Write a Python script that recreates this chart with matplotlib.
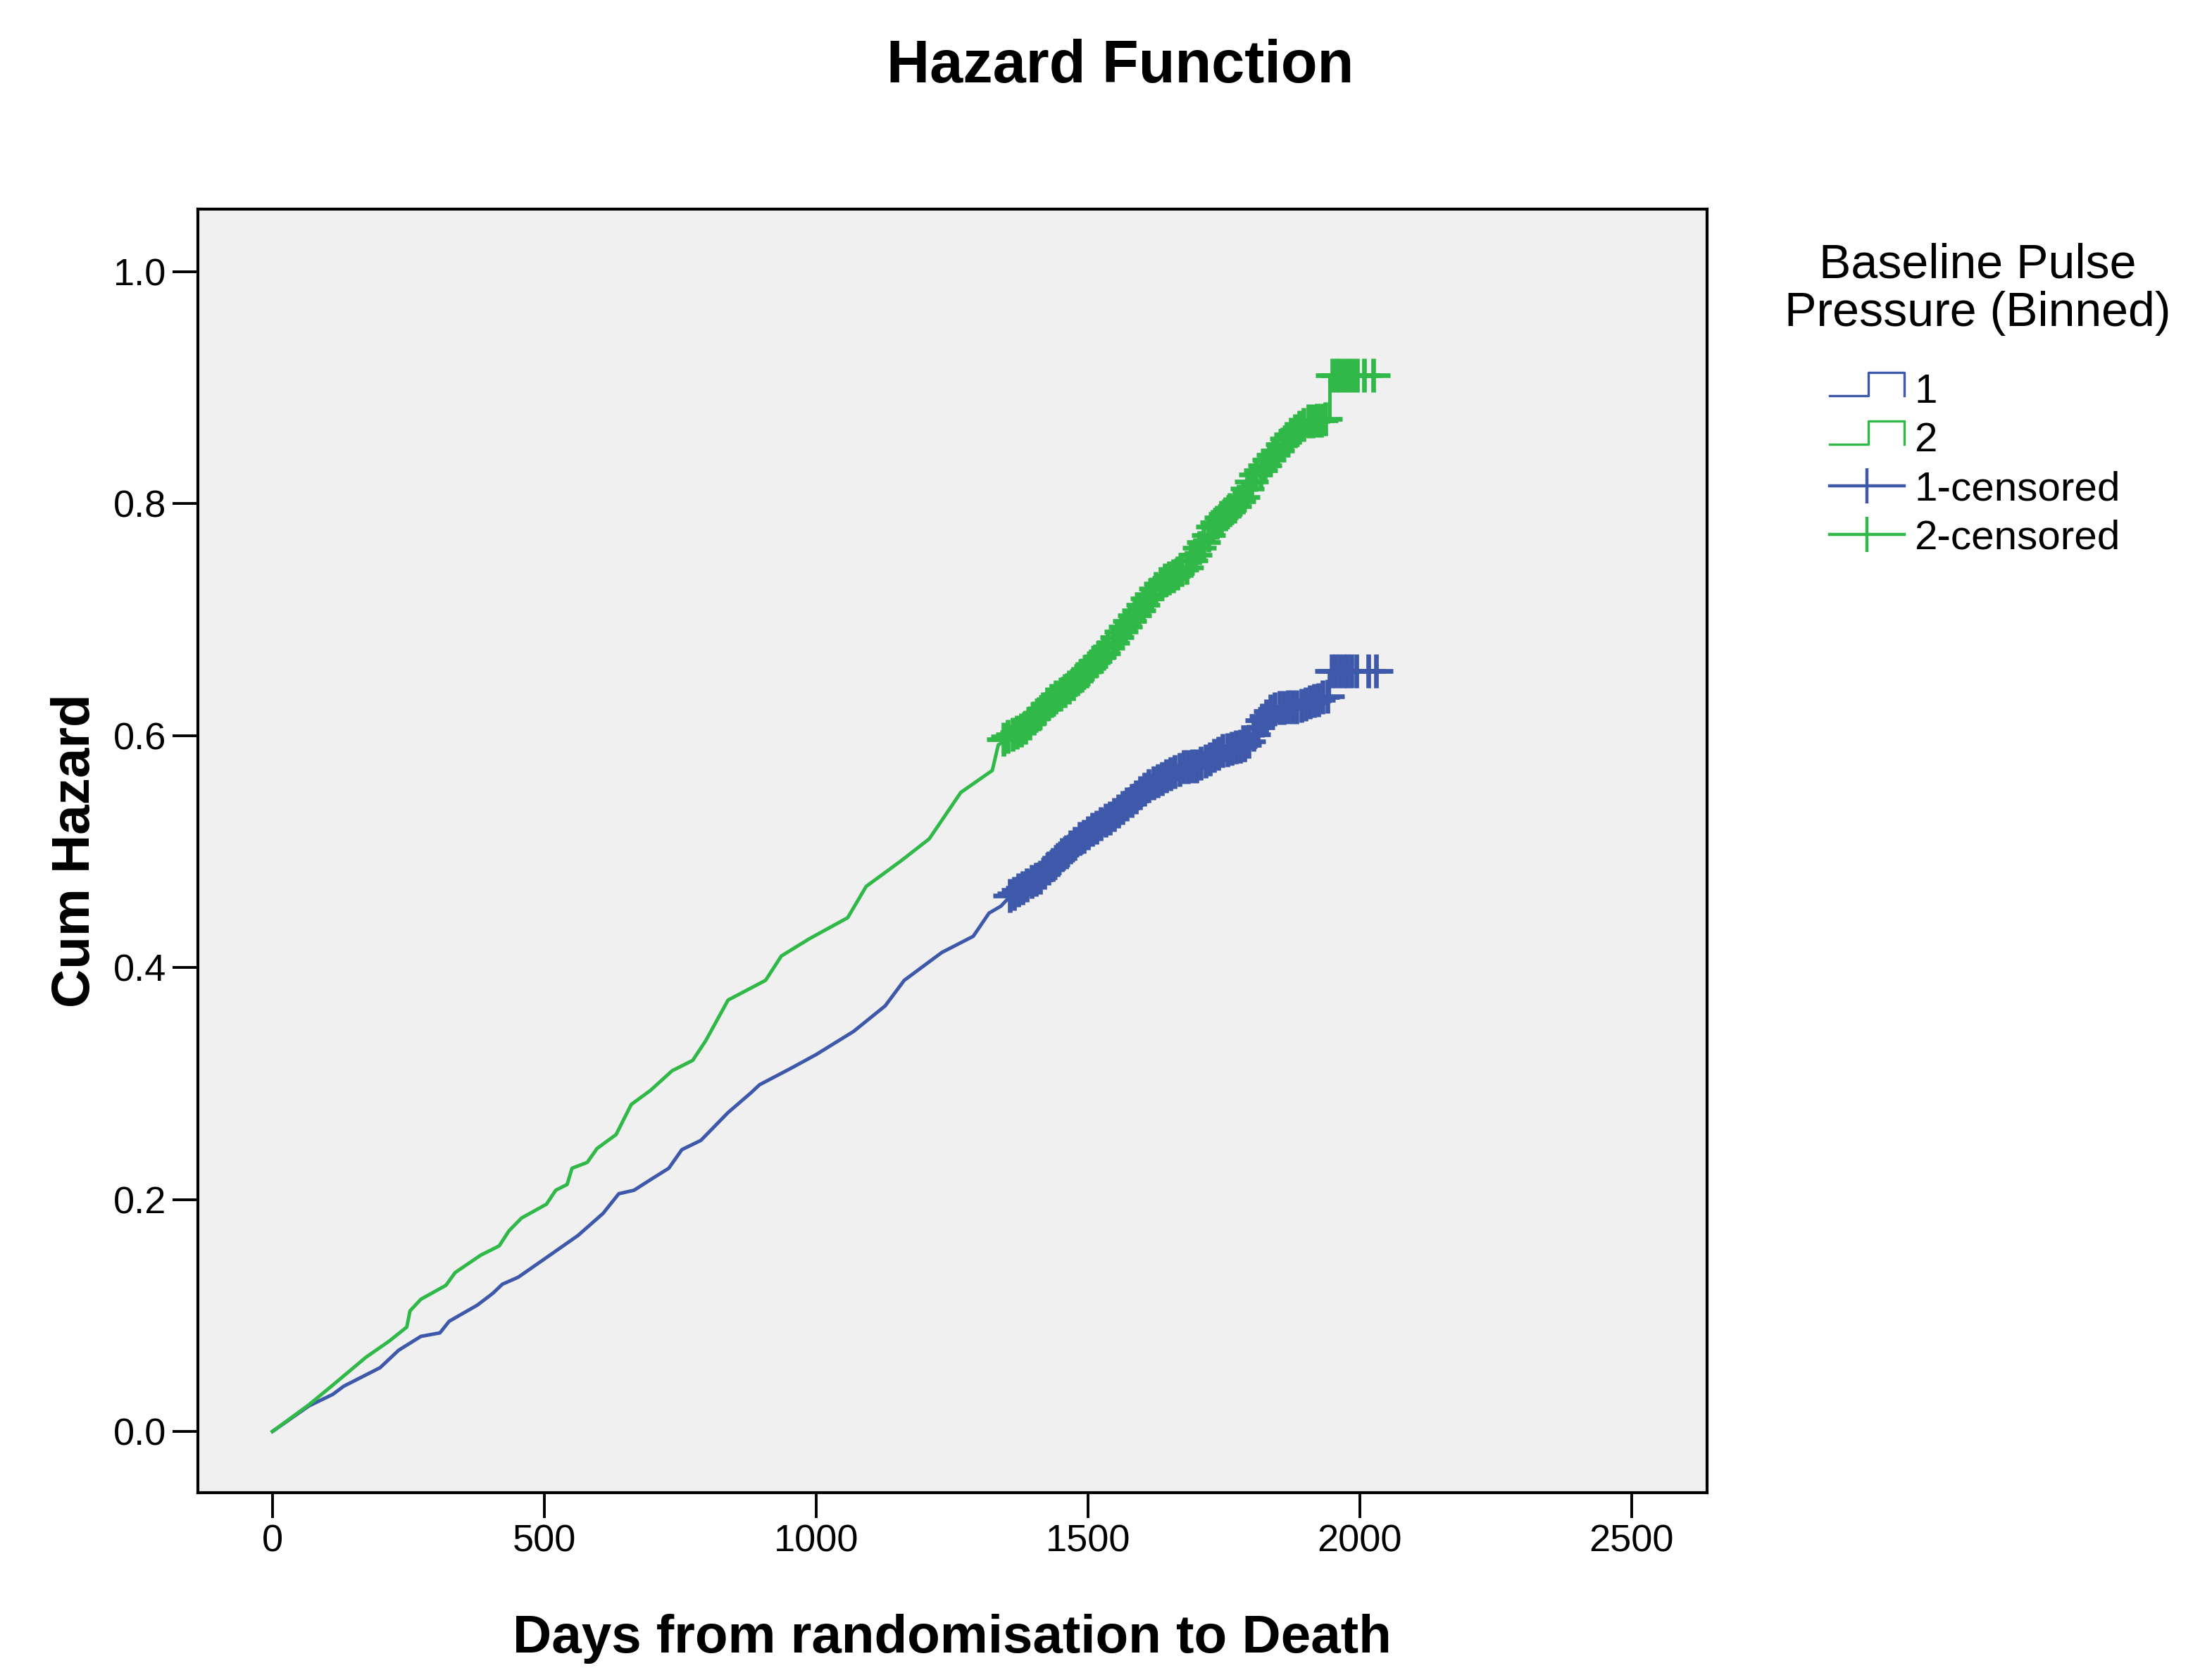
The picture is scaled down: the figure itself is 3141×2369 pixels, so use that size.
import matplotlib.pyplot as plt
from matplotlib.lines import Line2D
from matplotlib.legend_handler import HandlerBase

plt.rcParams["font.family"] = ["Liberation Sans", "DejaVu Sans"]

# ------------------------------------------------------------
# Cumulative hazard
# ------------------------------------------------------------

# group 1 (blue)
g1_days = [0, 67, 111, 131, 152, 198, 232, 273, 308, 325, 377, 405, 423, 452,
           498, 562, 608, 637, 665, 695, 729, 753, 788, 838, 880, 896, 953,
           1000, 1069, 1127, 1162, 1231, 1289, 1318, 1340, 1352, 1410, 1482,
           1554, 1616, 1674, 1702, 1745, 1793, 1817, 1841, 1889, 1927, 1944,
           1944, 2030]
g1_cumhaz = [0.0, 0.022, 0.032, 0.039, 0.044, 0.055, 0.070, 0.082, 0.085,
             0.095, 0.109, 0.119, 0.127, 0.133, 0.148, 0.169, 0.188, 0.205,
             0.208, 0.217, 0.227, 0.243, 0.251, 0.275, 0.292, 0.299, 0.313,
             0.325, 0.345, 0.367, 0.389, 0.413, 0.427, 0.447, 0.453, 0.459,
             0.4775, 0.510, 0.534, 0.559, 0.573, 0.574, 0.587, 0.593, 0.611,
             0.623, 0.625, 0.632, 0.635, 0.656, 0.656]

# group 2 (green)
g2_days = [0, 67, 111, 172, 215, 247, 253, 273, 319, 336, 383, 417, 435, 458,
           504, 521, 542, 551, 579, 597, 632, 660, 695, 735, 773, 797, 838,
           907, 936, 988, 1058, 1092, 1156, 1208, 1266, 1324, 1335, 1385,
           1435, 1484, 1534, 1584, 1634, 1683, 1707, 1732, 1782, 1806, 1832,
           1871, 1905, 1945, 1945, 2025]
g2_cumhaz = [0.0, 0.023, 0.040, 0.064, 0.078, 0.090, 0.104, 0.114, 0.126,
             0.137, 0.152, 0.160, 0.173, 0.184, 0.196, 0.208, 0.213, 0.227,
             0.232, 0.244, 0.256, 0.282, 0.294, 0.311, 0.320, 0.337, 0.372,
             0.389, 0.410, 0.425, 0.443, 0.470, 0.492, 0.511, 0.551, 0.570,
             0.592, 0.607, 0.631, 0.650, 0.674, 0.703, 0.732, 0.746, 0.763,
             0.782, 0.804, 0.823, 0.837, 0.859, 0.871, 0.873, 0.911, 0.911]

# censored cases: time and cum hazard where the mark sits
g1_cens_days = [1356, 1364, 1372, 1380, 1388, 1396, 1404, 1412, 1420, 1428,
                1436, 1444, 1452, 1460, 1468, 1476, 1484, 1492, 1500, 1508,
                1516, 1524, 1532, 1540, 1548, 1556, 1564, 1572, 1580, 1588,
                1596, 1604, 1612, 1620, 1628, 1636, 1644, 1652, 1660, 1668,
                1676, 1684, 1692, 1700, 1708, 1716, 1724, 1732, 1740, 1748,
                1756, 1764, 1772, 1780, 1788, 1796, 1804, 1812, 1820, 1828,
                1836, 1844, 1852, 1860, 1868, 1876, 1884, 1892, 1900, 1908,
                1916, 1924, 1932, 1940, 1948, 1955, 1962, 1970, 1977, 1985,
                1993, 2016, 2030]
g1_cens_cumhaz = [0.462, 0.464, 0.467, 0.469, 0.471, 0.474, 0.476, 0.478,
                  0.482, 0.486, 0.489, 0.493, 0.497, 0.500, 0.504, 0.507,
                  0.511, 0.513, 0.516, 0.519, 0.521, 0.524, 0.527, 0.529,
                  0.532, 0.535, 0.538, 0.541, 0.544, 0.547, 0.551, 0.554,
                  0.557, 0.559, 0.561, 0.563, 0.565, 0.567, 0.569, 0.571,
                  0.573, 0.573, 0.574, 0.574, 0.576, 0.578, 0.580, 0.583,
                  0.585, 0.587, 0.588, 0.589, 0.590, 0.591, 0.592, 0.595,
                  0.601, 0.607, 0.613, 0.617, 0.621, 0.623, 0.624, 0.624,
                  0.625, 0.625, 0.625, 0.626, 0.627, 0.629, 0.630, 0.631,
                  0.633, 0.634, 0.656, 0.656, 0.656, 0.656, 0.656, 0.656,
                  0.656, 0.656, 0.656]

g2_cens_days = [1345, 1353, 1361, 1369, 1377, 1385, 1393, 1401, 1409, 1417,
                1425, 1433, 1441, 1449, 1457, 1465, 1473, 1481, 1489, 1497,
                1505, 1513, 1521, 1529, 1537, 1545, 1553, 1561, 1569, 1577,
                1585, 1593, 1601, 1609, 1617, 1625, 1633, 1641, 1649, 1657,
                1665, 1673, 1681, 1689, 1697, 1705, 1713, 1721, 1729, 1737,
                1745, 1753, 1761, 1769, 1777, 1785, 1793, 1801, 1809, 1817,
                1825, 1833, 1841, 1849, 1857, 1865, 1873, 1881, 1889, 1897,
                1905, 1913, 1921, 1929, 1937, 1950, 1957, 1964, 1972, 1979,
                1987, 1995, 2008, 2025]
g2_cens_cumhaz = [0.597, 0.599, 0.601, 0.603, 0.605, 0.607, 0.611, 0.615,
                  0.619, 0.623, 0.627, 0.630, 0.633, 0.636, 0.639, 0.642,
                  0.645, 0.649, 0.652, 0.656, 0.660, 0.664, 0.668, 0.671,
                  0.676, 0.680, 0.685, 0.690, 0.694, 0.699, 0.704, 0.708,
                  0.713, 0.718, 0.722, 0.727, 0.731, 0.734, 0.736, 0.738,
                  0.740, 0.743, 0.745, 0.751, 0.756, 0.762, 0.767, 0.773,
                  0.780, 0.784, 0.788, 0.791, 0.795, 0.798, 0.802, 0.806,
                  0.813, 0.819, 0.825, 0.829, 0.833, 0.838, 0.842, 0.846,
                  0.851, 0.856, 0.860, 0.863, 0.866, 0.868, 0.871, 0.871,
                  0.872, 0.872, 0.873, 0.911, 0.911, 0.911, 0.911, 0.911,
                  0.911, 0.911, 0.911, 0.911]

group_labels = ["1", "2", "1-censored", "2-censored"]
legend_title = ["Baseline Pulse", "Pressure (Binned)"]

x_ticks = [0, 500, 1000, 1500, 2000, 2500]
y_ticks = [0.0, 0.2, 0.4, 0.6, 0.8, 1.0]

BLUE = "#3e58aa"
GREEN = "#30b848"


# step-shaped legend glyph like SPSS uses for survival lines
class StepHandler(HandlerBase):
    def create_artists(self, legend, orig_handle, xdescent, ydescent,
                       width, height, fontsize, trans):
        x0 = -xdescent
        x1 = x0 + width
        xm = x0 + 0.52 * width
        ylo = -ydescent + 0.25 * height
        yhi = -ydescent + 1.05 * height
        line = Line2D([x0, xm, xm, x1, x1], [ylo, ylo, yhi, yhi, ylo],
                      color=orig_handle.get_color(),
                      linewidth=orig_handle.get_linewidth())
        line.set_transform(trans)
        return [line]


# ------------------------------------------------------------
# Figure
# ------------------------------------------------------------

fig = plt.figure(figsize=(15.705, 11.845), dpi=200)
ax = fig.add_axes([0.0895, 0.1051, 0.6823, 0.7695])
ax.set_facecolor("#f0f0f0")

ax.plot(g1_days, g1_cumhaz, color=BLUE, linewidth=1.8, zorder=3)
ax.plot(g2_days, g2_cumhaz, color=GREEN, linewidth=1.8, zorder=3)

ax.plot(g1_cens_days, g1_cens_cumhaz, linestyle="none", marker="+",
        markersize=17, markeredgewidth=2.4, color=BLUE, zorder=4)
ax.plot(g2_cens_days, g2_cens_cumhaz, linestyle="none", marker="+",
        markersize=17, markeredgewidth=2.4, color=GREEN, zorder=4)

ax.set_xlim(-137, 2639)
ax.set_ylim(-0.0528, 1.054)
ax.set_xticks(x_ticks)
ax.set_xticklabels([str(v) for v in x_ticks])
ax.set_yticks(y_ticks)
ax.set_yticklabels([f"{v:.1f}" for v in y_ticks])

ax.tick_params(direction="out", length=13, width=1.4, labelsize=19.5,
               pad=3, colors="black")
for spine in ax.spines.values():
    spine.set_linewidth(1.5)
    spine.set_color("black")

fig.text(0.5065, 0.9506, "Hazard Function", ha="center", va="baseline",
         fontsize=30.5, fontweight="bold")
fig.text(0.4304, 0.0093, "Days from randomisation to Death", ha="center",
         va="baseline", fontsize=27.5, fontweight="bold")
fig.text(0.0405, 0.49, "Cum Hazard", ha="center", va="baseline",
         rotation=90, rotation_mode="anchor", fontsize=27.5,
         fontweight="bold")

# ------------------------------------------------------------
# Legend
# ------------------------------------------------------------

fig.text(0.894, 0.8333, legend_title[0], ha="center", va="baseline",
         fontsize=24.5)
fig.text(0.894, 0.8046, legend_title[1], ha="center", va="baseline",
         fontsize=24.5)

h1 = Line2D([], [], color=BLUE, linewidth=1.2)
h2 = Line2D([], [], color=GREEN, linewidth=1.2)
h3 = Line2D([], [], color=BLUE, linewidth=1.6, marker="|", markersize=18,
            markeredgewidth=1.6)
h4 = Line2D([], [], color=GREEN, linewidth=1.6, marker="|", markersize=18,
            markeredgewidth=1.6)

ax.legend([h1, h2, h3, h4], group_labels,
          handler_map={h1: StepHandler(), h2: StepHandler()},
          loc="upper left", bbox_to_anchor=(0.8271, 0.7763),
          bbox_transform=fig.transFigure, frameon=False, fontsize=21,
          handlelength=1.82, handletextpad=0.24, labelspacing=0.26,
          borderpad=0, borderaxespad=0, numpoints=1)

fig.savefig("out.png", dpi=200)
print("Saved out.png")
